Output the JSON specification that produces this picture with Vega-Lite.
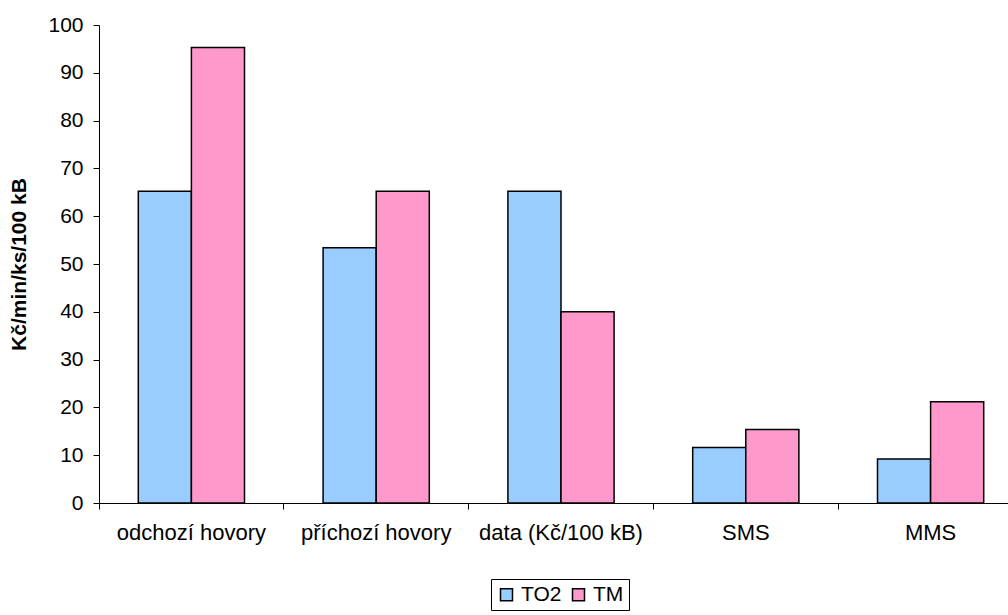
{
  "$schema": "https://vega.github.io/schema/vega-lite/v6.json",
  "autosize": "none",
  "width": 924,
  "height": 478,
  "padding": {"left": 99, "top": 25, "right": -15, "bottom": 112},
  "background": "white",
  "config": {"view": {"stroke": null}, "font": "Liberation Sans"},
  "data": {"values": [
    {"cat": "odchozí hovory", "op": "TO2", "v": 65.2},
    {"cat": "odchozí hovory", "op": "TM", "v": 95.3},
    {"cat": "příchozí hovory", "op": "TO2", "v": 53.4},
    {"cat": "příchozí hovory", "op": "TM", "v": 65.2},
    {"cat": "data (Kč/100 kB)", "op": "TO2", "v": 65.2},
    {"cat": "data (Kč/100 kB)", "op": "TM", "v": 40.0},
    {"cat": "SMS", "op": "TO2", "v": 11.6},
    {"cat": "SMS", "op": "TM", "v": 15.4},
    {"cat": "MMS", "op": "TO2", "v": 9.2},
    {"cat": "MMS", "op": "TM", "v": 21.2}
  ]},
  "mark": {"type": "bar", "stroke": "black", "strokeWidth": 1.5},
  "encoding": {
    "x": {"field": "cat", "type": "nominal", "sort": null,
      "scale": {"paddingInner": 0, "paddingOuter": 0},
      "axis": {"title": null, "labelAngle": 0, "labelFontSize": 22, "labelColor": "black",
        "bandPosition": 0, "tickColor": "black", "domainColor": "black", "tickSize": 6,
        "labelPadding": 13, "labelOffset": 0}},
    "xOffset": {"field": "op", "type": "nominal", "sort": ["TO2", "TM"],
      "scale": {"paddingInner": 0, "paddingOuter": 0.74}},
    "y": {"field": "v", "type": "quantitative",
      "scale": {"domain": [0, 100], "nice": false},
      "axis": {"title": "Kč/min/ks/100 kB", "titleFontSize": 21, "titleFontWeight": "bold",
        "titleColor": "black", "values": [0,10,20,30,40,50,60,70,80,90,100],
        "grid": false, "labelFontSize": 21, "labelColor": "black", "tickColor": "black",
        "domainColor": "black", "tickSize": 6, "labelPadding": 10, "titlePadding": 18}},
    "fill": {"field": "op", "type": "nominal", "sort": ["TO2", "TM"],
      "scale": {"domain": ["TO2", "TM"], "range": ["#99CCFF", "#FF99CC"]},
      "legend": {"title": null, "orient": "none", "legendX": 392, "legendY": 554,
        "direction": "horizontal", "labelFontSize": 21, "labelColor": "black",
        "symbolType": "square", "symbolSize": 144, "symbolStrokeColor": "black",
        "symbolStrokeWidth": 1.5, "strokeColor": "black", "padding": 5,
        "columnPadding": 6, "symbolOffset": 0, "labelOffset": 4}}
  }
}
